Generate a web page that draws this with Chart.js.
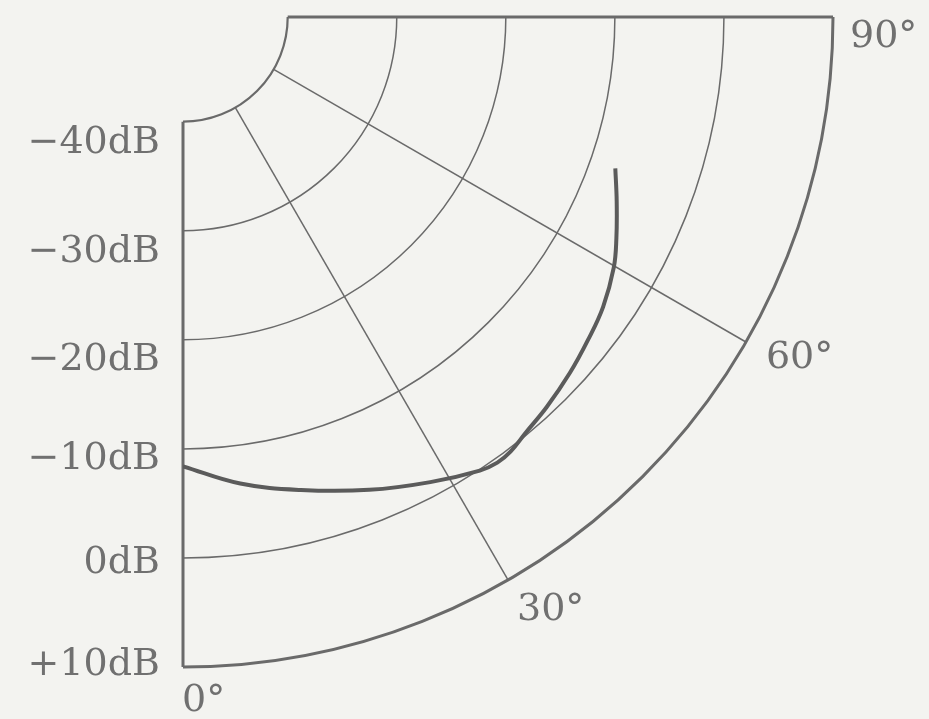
<!DOCTYPE html>
<html>
<head>
<meta charset="utf-8">
<script src="https://cdn.jsdelivr.net/npm/chart.js@4/dist/chart.umd.min.js"></script>
<style>
  html, body { margin: 0; padding: 0; background: #f3f3f0; }
  canvas { display: block; }
</style>
</head>
<body>
<canvas id="polar" width="929" height="719"></canvas>
<script>
// response curve, angle in degrees from the axis and level in dB
const angles = [0, 7, 14, 21.5, 28, 33.2, 35.2, 37, 39.5, 43, 47.4, 51.4, 55.4, 59.8, 63, 67, 70.7];
const levels = [-8.4, -6.5, -4.9, -3.0, -1.3, 0.1, 0.4, 0.3, -0.2, -0.7, -1.4, -2.1, -2.8, -3.9, -5.0, -6.4, -7.6];

const dbTicks = [-40, -30, -20, -10, 0, 10];
const dbLabels = ["\u221240dB", "\u221230dB", "\u221220dB", "\u221210dB", "0dB", "+10dB"];
const angleTicks = [0, 30, 60, 90];
const angleLabels = ["0\u00b0", "30\u00b0", "60\u00b0", "90\u00b0"];

// the radial axis does not start at zero: this level sits at the centre
const DB_ORIGIN = -49.6;
const R_MAX = dbTicks[dbTicks.length - 1] - DB_ORIGIN;

const rad = d => d * Math.PI / 180;
const toXY = (deg, db) => {
  const r = db - DB_ORIGIN;
  return { x: r * Math.sin(rad(deg)), y: -r * Math.cos(rad(deg)) };
};

const curve = angles.map((a, i) => toXY(a, levels[i]));

const INK = "#6a6a6a";
const FONT = "38px 'DejaVu Serif', serif";

const polarGrid = {
  id: "polarGrid",
  beforeDatasetsDraw(chart) {
    const { ctx, scales: { x, y } } = chart;
    const cx = x.getPixelForValue(0);
    const cy = y.getPixelForValue(0);
    const rPx = db => x.getPixelForValue(db - DB_ORIGIN) - cx;
    const rIn = rPx(dbTicks[0]);
    const rOut = rPx(dbTicks[dbTicks.length - 1]);

    ctx.save();
    ctx.strokeStyle = INK;
    ctx.lineCap = "butt";

    // level arcs
    dbTicks.forEach((db, i) => {
      const last = i === dbTicks.length - 1;
      ctx.lineWidth = last ? 3 : (i === 0 ? 2.2 : 1.5);
      ctx.beginPath();
      ctx.arc(cx, cy, rPx(db), 0, Math.PI / 2);
      ctx.stroke();
    });

    // angle spokes
    angleTicks.forEach(a => {
      const edge = a === 0 || a === 90;
      ctx.lineWidth = edge ? 3 : 1.5;
      const s = Math.sin(rad(a)), c = Math.cos(rad(a));
      ctx.beginPath();
      ctx.moveTo(cx + rIn * s, cy + rIn * c);
      ctx.lineTo(cx + rOut * s, cy + rOut * c);
      ctx.stroke();
    });

    // level labels left of the 0° spoke
    ctx.fillStyle = "#707070";
    ctx.font = FONT;
    ctx.textAlign = "right";
    ctx.textBaseline = "alphabetic";
    const lift = [31, 31, 30, 20, 15, 8];
    dbTicks.forEach((db, i) => {
      ctx.fillText(dbLabels[i], cx - 23, cy + rPx(db) + lift[i]);
    });

    // angle labels just outside the outer arc
    ctx.textAlign = "left";
    const nudge = [[-1, 44], [9, 40], [20, 26], [17, 30]];
    angleTicks.forEach((a, i) => {
      const s = Math.sin(rad(a)), c = Math.cos(rad(a));
      ctx.fillText(angleLabels[i], cx + rOut * s + nudge[i][0], cy + rOut * c + nudge[i][1]);
    });
    ctx.restore();
  }
};

new Chart(document.getElementById("polar"), {
  type: "scatter",
  data: {
    datasets: [{
      data: curve,
      showLine: true,
      borderColor: "#5b5b5b",
      borderWidth: 4,
      pointRadius: 0,
      tension: 0.4,
      fill: false
    }]
  },
  options: {
    responsive: false,
    animation: false,
    layout: { padding: { left: 183, top: 17, right: 96, bottom: 52 } },
    scales: {
      x: { type: "linear", min: 0, max: R_MAX, display: false },
      y: { type: "linear", min: -R_MAX, max: 0, display: false }
    },
    plugins: { legend: { display: false }, tooltip: { enabled: false } }
  },
  plugins: [polarGrid]
});
</script>
</body>
</html>
